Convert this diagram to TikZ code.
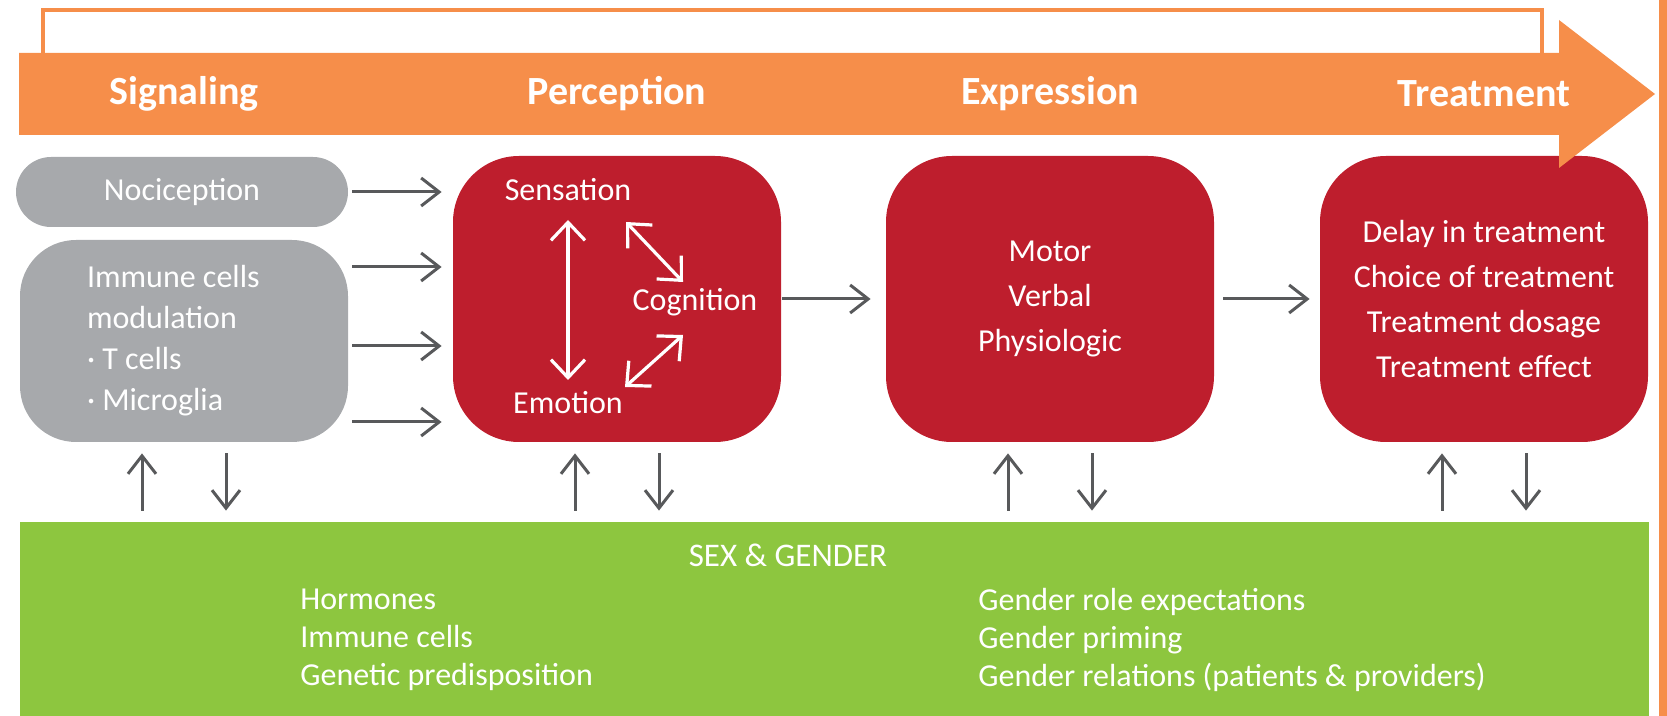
\documentclass[tikz,border=0pt]{standalone}
\usepackage{fontspec}
\setmainfont{Carlito}
\usetikzlibrary{arrows.meta}
\definecolor{pkorange}{RGB}{246,142,74}
\definecolor{pkred}{RGB}{190,30,45}
\definecolor{pkgrey}{RGB}{167,169,172}
\definecolor{pkgreen}{RGB}{141,198,63}
\definecolor{pkdark}{RGB}{88,89,91}
\begin{document}
\begin{tikzpicture}[x=0.5pt,y=-0.5pt,
  greybox/.style={fill=pkgrey, text=white, font=\fontsize{16}{20.5}\selectfont},
  redbox/.style={fill=pkred, text=white, align=center, rounded corners=33pt,
    minimum width=164pt, minimum height=143pt, font=\fontsize{16}{22.5}\selectfont},
  garrow/.style={draw=pkdark, line width=1.5pt, -{Straight Barb[length=9pt,width=14pt]}},
  warrow/.style={draw=white, line width=1.6pt, {Straight Barb[length=9pt,width=17pt]}-{Straight Barb[length=9pt,width=17pt]}},
  plabel/.style={text=white, inner sep=0pt, font=\fontsize{16}{19}\selectfont},
  barlabel/.style={text=white, font=\bfseries\fontsize{20}{24}\selectfont},
  gtext/.style={text=white, align=flush left, anchor=west, inner xsep=0pt, font=\fontsize{16}{19}\selectfont}]
\useasboundingbox (0,0) rectangle (1667,716);
\draw[pkorange, line width=1.6pt] (43,53) |- (1542,10) -- (1542,53);
\node[greybox, rounded corners=17.5pt, minimum width=166pt, minimum height=35pt] (noci) at (182,192) {Nociception};
\node[greybox, rounded corners=28pt, minimum height=101pt, text width=97pt, inner xsep=33.5pt, align=flush left] (immune) at (184,341)
  {Immune cells\\modulation\\· T cells\\· Microglia};
\node[redbox] (perc) at (617,299) {};
\node[redbox] (expr) at (1050,299) {Motor\\Verbal\\Physiologic};
\node[redbox] (treat) at (1484,299) {Delay in treatment\\Choice of treatment\\Treatment dosage\\Treatment effect};
\fill[pkorange] (19,53) -- (1559,53) -- (1559,20) -- (1655,94) -- (1559,168) -- (1559,135) -- (19,135) -- cycle;
\fill[pkorange] (1659,0) rectangle (1667,716);
\node[barlabel] (lsig) at (immune.center |- 0,94) {Signaling};
\node[barlabel] (lperc) at (perc.center |- 0,94) {Perception};
\node[barlabel] (lexpr) at (expr.center |- 0,94) {Expression};
\node[barlabel] (ltreat) at (treat.center |- 0,94) {Treatment};
\node[plabel] (sens) at (568,190) {Sensation};
\node[plabel] (cog) at (695,302) {Cognition};
\node[plabel] (emo) at (568,403) {Emotion};
\draw[warrow] ([shift={(0,30)}]sens.center) -- ([shift={(0,-23)}]emo.center);
\draw[warrow] ([shift={(58,32)}]sens.center) -- ([shift={(-12,-20)}]cog.center);
\draw[warrow] ([shift={(-12,33)}]cog.center) -- ([shift={(57,-16)}]emo.center);
\draw[garrow, shorten <=2pt, shorten >=5.5pt] (noci.east) -- (noci.east -| perc.west);
\foreach \y in {267,346,422}
  \draw[garrow, shorten <=2pt, shorten >=5.5pt] (immune.east |- 0,\y) -- (perc.west |- 0,\y);
\draw[garrow, shorten <=0.5pt, shorten >=7.5pt] (perc.east) -- (expr.west);
\draw[garrow, shorten <=4.5pt, shorten >=5pt] (expr.east) -- (treat.west);
\node[fill=pkgreen, minimum width=814.5pt, minimum height=97pt] (sg) at (834.5,619) {};
\node[text=white, font=\fontsize{16.5}{19}\selectfont] (sgtitle) at (788,555) {SEX \& GENDER};
\node[gtext] (sgbio) at (300,640) {Hormones\\Immune cells\\Genetic predisposition};
\node[gtext] (sgsoc) at (978,640) {Gender role expectations\\Gender priming\\Gender relations (patients \& providers)};
\foreach \b in {immune,perc,expr,treat} {
  \draw[garrow, shorten <=5.5pt, shorten >=5.5pt] ([xshift=-21pt]\b.south |- sg.north) -- ([xshift=-21pt]\b.south);
  \draw[garrow, shorten <=5.5pt, shorten >=5.5pt] ([xshift=21pt]\b.south) -- ([xshift=21pt]\b.south |- sg.north);
}
\end{tikzpicture}
\end{document}
